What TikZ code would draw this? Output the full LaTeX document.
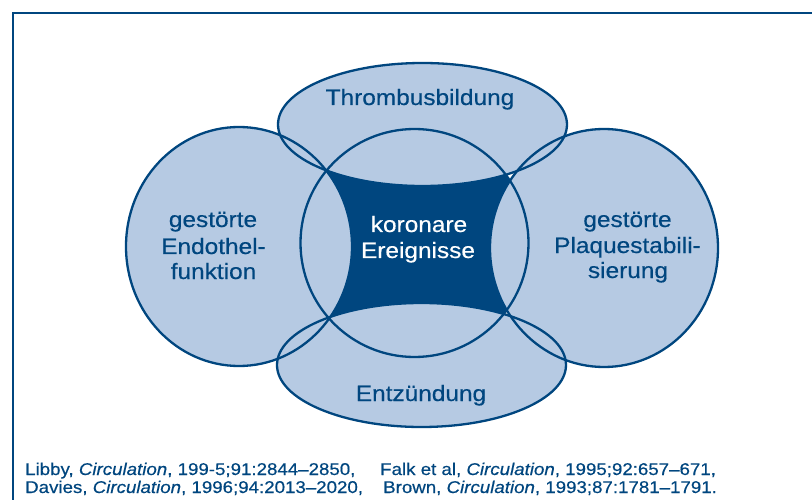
\documentclass[tikz,border=0pt]{standalone}
\usepackage{fontspec}
\setmainfont{Liberation Sans}[FakeStretch=1.1,FakeBold=0.4]
\definecolor{dkblue}{HTML}{00467F}
\definecolor{ltblue}{HTML}{B6CAE3}
\begin{document}
\begin{tikzpicture}[x=1pt,y=-1pt,
  outline/.style={draw=dkblue,line width=2.3pt},
  lbl/.style={text=dkblue,font=\fontsize{22.2}{26}\selectfont,anchor=base,inner sep=0pt},
  wlbl/.style={text=white,font=\fontsize{22.2}{26}\selectfont,anchor=base,inner sep=0pt},
  refs/.style={text=dkblue,font=\fontsize{17}{18}\selectfont,anchor=base west,inner sep=0pt}]
\useasboundingbox (0,0) rectangle (812,500);
\fill[white] (0,0) rectangle (812,500);
\draw[dkblue,line width=2pt] (13,500) -- (13,13) -- (812,13);
% central dark area
\fill[dkblue] (414.5,243) circle [radius=114pt];
% outer shapes
\fill[ltblue] (239,246.5) ellipse [x radius=113pt, y radius=119.5pt];
\fill[ltblue] (604,248) ellipse [x radius=114pt, y radius=119pt];
\fill[ltblue] (422.5,124.5) ellipse [x radius=144.5pt, y radius=61.5pt];
\fill[ltblue] (421.5,365) ellipse [x radius=144.5pt, y radius=62pt];
% outlines
\draw[outline] (414.5,243) circle [radius=114pt];
\draw[outline] (239,246.5) ellipse [x radius=113pt, y radius=119.5pt];
\draw[outline] (604,248) ellipse [x radius=114pt, y radius=119pt];
\draw[outline] (422.5,124.5) ellipse [x radius=144.5pt, y radius=61.5pt];
\draw[outline] (421.5,365) ellipse [x radius=144.5pt, y radius=62pt];
% labels
\node[lbl] (thr) at (420,105) {Thrombusbildung};
\node[lbl] (ent) at (421,401) {Entzündung};
\node[lbl] (l1) at (213,227) {gestörte};
\node[lbl] (l2) at (213.5,254) {Endothel-};
\node[lbl] (l3) at (213.5,279) {funktion};
\node[lbl] (r1) at (627.5,227) {gestörte};
\node[lbl] (r2) at (627.5,253) {Plaquestabili-};
\node[lbl] (r3) at (628,278) {sierung};
\node[wlbl] (c1) at (419,232) {koronare};
\node[wlbl] (c2) at (418,258) {Ereignisse};
% references
\node[refs] (ra) at (25,475) {Libby, \textit{Circulation}, 199-5;91:2844–2850,};
\node[refs] (rb) at (380,475) {Falk et al, \textit{Circulation}, 1995;92:657–671,};
\node[refs] (rc) at (25,493) {Davies, \textit{Circulation}, 1996;94:2013–2020,};
\node[refs] (rd) at (383,493) {Brown, \textit{Circulation}, 1993;87:1781–1791.};
\end{tikzpicture}
\end{document}
